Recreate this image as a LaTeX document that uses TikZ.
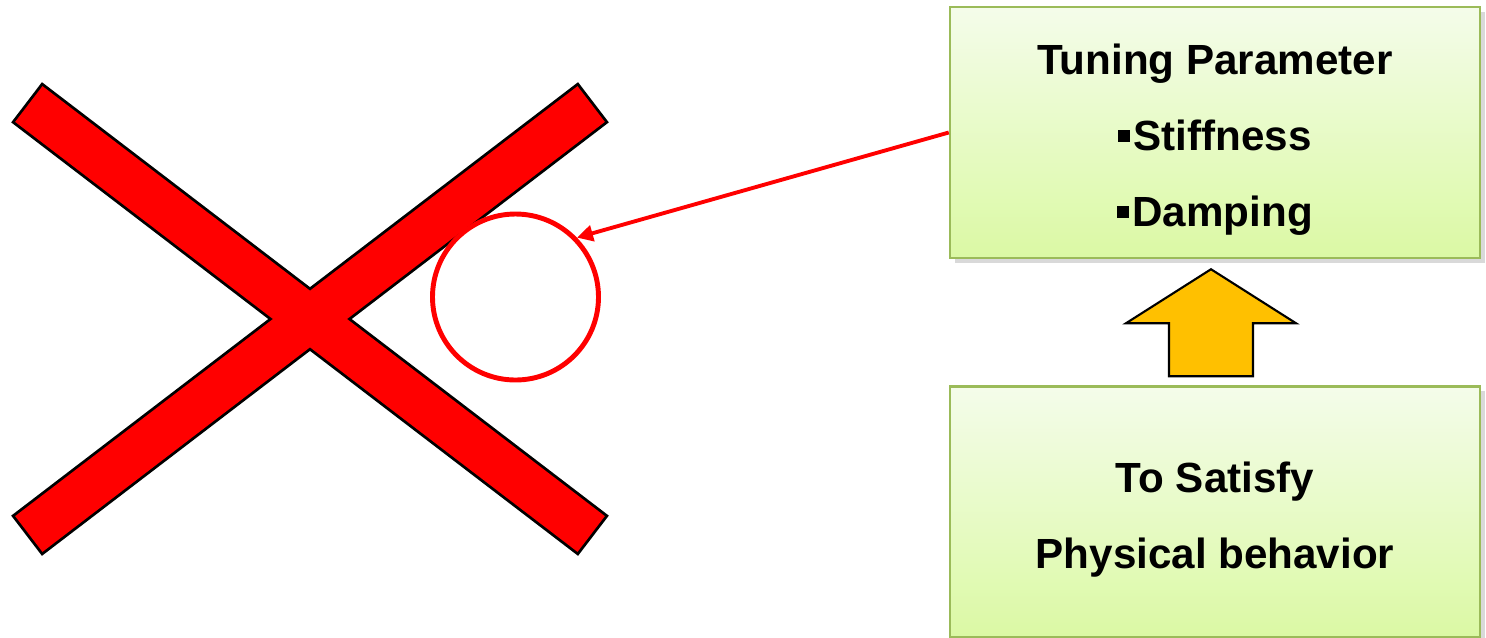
\documentclass[tikz,border=0pt]{standalone}
\usepackage{fontspec}
\setmainfont{Liberation Sans}
\usetikzlibrary{arrows.meta, positioning, calc, shadows}
\definecolor{leaf}{HTML}{9BBB59}
\definecolor{paletop}{HTML}{F4FCEA}
\definecolor{palebot}{HTML}{DBF9A4}
\definecolor{gold}{HTML}{FFC000}
\definecolor{alarm}{HTML}{FF0000}
\newcommand\sqbullet{\rule[2.6pt]{3.4pt}{3.3pt}\hspace{0.9pt}}
\newcommand\topgap{\rule{0pt}{13pt}}

\begin{document}
\begin{tikzpicture}[
      box/.style={draw=leaf, line width=0.7pt, top color=paletop, bottom color=palebot,
                  minimum width=5.3cm, minimum height=2.51cm, align=center,
                  font=\fontsize{12}{21.6}\selectfont\bfseries,
                  drop shadow={shadow xshift=0.5mm, shadow yshift=-0.5mm, opacity=0.3}},
      xbar/.style={fill=alarm, draw=black, line width=1.6pt, line join=miter},
      ring/.style={circle, draw=alarm, line width=1.4pt, minimum size=1.66cm, inner sep=0pt},
      arr/.style={-{Triangle[length=1.6mm, width=1.6mm]}, alarm, line width=1.1pt},
      blockarrow/.style={fill=gold, draw=black, line width=0.6pt, line join=miter}]
    \useasboundingbox (0,0) rectangle (14.86,-6.37);
    \foreach \a in {37.4,-37.4}
      \draw[xbar, shift={(3.10,-3.19)}, rotate=\a] (-3.54,-0.225) rectangle (3.54,0.225);
    \foreach \a in {37.4,-37.4}
      \fill[alarm, shift={(3.10,-3.19)}, rotate=\a] (-3.54,-0.225) rectangle (3.54,0.225);
    \node[ring] (ring) at (5.155,-2.97) {};
    \node[box] (tune) at (12.15,-1.325)
      {\topgap Tuning Parameter\\\sqbullet Stiffness\\\sqbullet Damping};
    \node[box, below=1.26cm of tune] (sat) {\topgap To Satisfy\\Physical behavior};
    \coordinate (foot) at ($(sat.north)+(-0.04,0.09)$);
    \draw[blockarrow] (foot) ++(-0.42,0) -- ++(0,0.53) -- ++(-0.43,0) -- ++(0.85,0.54)
      -- ++(0.85,-0.54) -- ++(-0.43,0) -- ++(0,-0.53) -- cycle;
    \draw[arr] (tune.west) -- (ring.44);
  \end{tikzpicture}
\end{document}
